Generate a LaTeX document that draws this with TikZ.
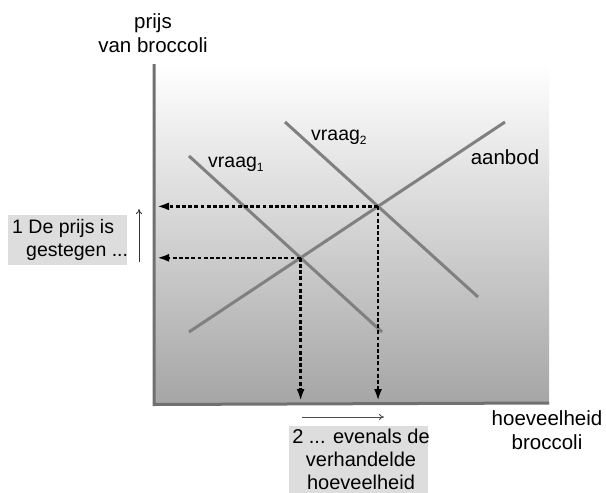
\documentclass[tikz,border=0pt]{standalone}
\usepackage{fontspec}
\setmainfont{Liberation Sans}
\usetikzlibrary{arrows.meta,intersections}
\definecolor{axisgray}{RGB}{112,112,112}
\definecolor{curvegray}{RGB}{128,128,128}
\definecolor{boxgray}{RGB}{221,221,221}
\newcommand{\mysub}[1]{\raisebox{-4.5pt}{\fontsize{12}{12}\selectfont #1}}
\tikzset{
  axisline/.style={draw=axisgray,line width=3pt},
  curve/.style={draw=curvegray,line width=3pt},
  guide/.style={draw=black,line width=2.6pt,dash pattern=on 3.8pt off 2.4pt,
    -{Latex[length=12pt,width=8pt]}},
  hint/.style={draw=black!80,line width=0.8pt,-{To[length=5pt,width=6pt]}},
  lbl/.style={font=\fontsize{20.5}{24}\selectfont,align=center,inner sep=0pt},
  dlbl/.style={font=\fontsize{19.5}{22}\selectfont,inner sep=0pt},
  boxtxt/.style={font=\fontsize{19.5}{23}\selectfont,inner sep=0pt},
  boxtxtb/.style={font=\fontsize{20}{23}\selectfont,inner sep=0pt},
}
\begin{document}
\begin{tikzpicture}[x=1pt,y=-1pt]
\useasboundingbox (0,0) rectangle (606,493);
% plot background
\shade[top color=white,bottom color=black!35] (155,64) rectangle (549,403);
% axes
\coordinate (ytop) at (154,64);
\coordinate (xend) at (549,403);
\draw[axisline] (ytop) -- (154,404.5) -- (xend);
% curves
\coordinate (s1) at (189,332);
\coordinate (s2) at (505,122);
\coordinate (d1a) at (189,156);
\coordinate (d1b) at (382,332);
\coordinate (d2a) at (285,122);
\coordinate (d2b) at (478,297);
\draw[curve,name path=supply] (s1) -- (s2);
\draw[curve,name path=dem1] (d1a) -- (d1b);
\draw[curve,name path=dem2] (d2a) -- (d2b);
\path[name intersections={of=supply and dem1,by=E1}];
\path[name intersections={of=supply and dem2,by=E2}];
% guide arrows
\coordinate (p1) at (157,0 |- E1);
\coordinate (p2) at (157,0 |- E2);
\coordinate (q1) at (E1 |- 0,401);
\coordinate (q2) at (E2 |- 0,401);
\draw[guide] (E2) -- (p2);
\draw[guide] (E1) -- (p1);
\draw[guide] (E1) -- (q1);
\draw[guide] (E2) -- (q2);
% labels
\node[lbl] (ylab) at (153,33) {prijs\\van broccoli};
\node[lbl] (xlab) at (547,430) {hoeveelheid\\broccoli};
\node[dlbl,anchor=base west] (v1) at (208,167) {vraag\mysub{1}};
\node[dlbl,anchor=base west] (v2) at (311,140) {vraag\mysub{2}};
\node[lbl,anchor=center] (ab) at (505,157) {aanbod};
% left box
\fill[boxgray] (8,215) rectangle (127,265);
\node[boxtxt,anchor=west] (b1a) at (12,228) {1 De prijs is};
\node[boxtxt,anchor=west] (b1b) at (26,252) {gestegen ...};
\coordinate (ua) at (139,262);
\coordinate (ub) at (139,209);
\draw[hint] (ua) -- (ub);
% bottom box
\fill[boxgray] (289,426) rectangle (428,493);
\node[boxtxtb,align=center] (b2) at (361,459) {2 ... evenals de\\verhandelde\\hoeveelheid};
\coordinate (ra) at (302,417);
\coordinate (rb) at (384,417);
\draw[hint,draw=black!70] (ra) -- (rb);
\end{tikzpicture}
\end{document}
